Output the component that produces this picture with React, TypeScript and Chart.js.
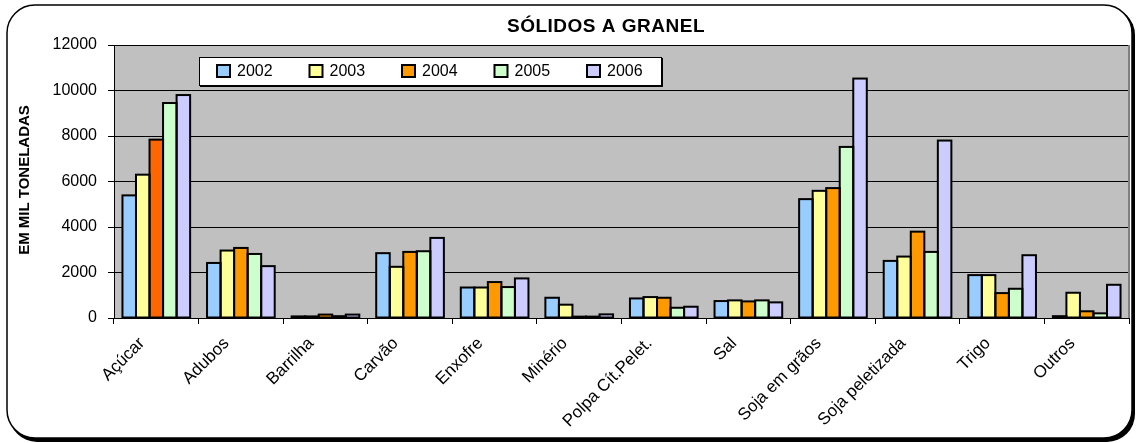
import React, { useEffect, useRef } from "react";
import { Chart, registerables } from "chart.js";

Chart.register(...registerables);

const categories = [
  "Açúcar",
  "Adubos",
  "Barrilha",
  "Carvão",
  "Enxofre",
  "Minério",
  "Polpa Cít.Pelet.",
  "Sal",
  "Soja em grãos",
  "Soja peletizada",
  "Trigo",
  "Outros",
];
const years = ["2002", "2003", "2004", "2005", "2006"];
const s2002 = [5390, 2420, 70, 2850, 1340, 890, 860, 745, 5225, 2510, 1885, 80];
const s2003 = [6300, 2965, 70, 2250, 1340, 585, 920, 775, 5590, 2700, 1885, 1110];
const s2004 = [7840, 3080, 150, 2905, 1580, 60, 890, 730, 5710, 3795, 1095, 295];
const s2005 = [9450, 2815, 80, 2935, 1360, 60, 450, 775, 7520, 2905, 1285, 205];
const s2006 = [9800, 2280, 150, 3520, 1740, 160, 495, 687, 10525, 7800, 2760, 1460];
const yTicks = [0, 2000, 4000, 6000, 8000, 10000, 12000];

const seriesValues = [s2002, s2003, s2004, s2005, s2006];
const seriesColors = ["#99CCFF", "#FFFF99", "#FF9900", "#CCFFCC", "#CCCCFF"];
const highlight2004 = "#FF6600";

const TITLE = "SÓLIDOS A GRANEL";
const Y_TITLE = "EM MIL TONELADAS";
const FONT = "'Liberation Sans', Arial, sans-serif";

function roundRect(ctx: CanvasRenderingContext2D, x: number, y: number, w: number, h: number, r: number) {
  ctx.beginPath();
  ctx.moveTo(x + r, y);
  ctx.lineTo(x + w - r, y);
  ctx.arcTo(x + w, y, x + w, y + r, r);
  ctx.lineTo(x + w, y + h - r);
  ctx.arcTo(x + w, y + h, x + w - r, y + h, r);
  ctx.lineTo(x + r, y + h);
  ctx.arcTo(x, y + h, x, y + h - r, r);
  ctx.lineTo(x, y + r);
  ctx.arcTo(x, y, x + r, y, r);
  ctx.closePath();
}

const decorPlugin = {
  id: "decor",
  beforeDraw(chart: any) {
    const ctx: CanvasRenderingContext2D = chart.ctx;
    const { left, right, top, bottom } = chart.chartArea;
    ctx.save();
    ctx.fillStyle = "#ffffff";
    ctx.fillRect(0, 0, chart.width, chart.height);
    // frame shadow
    ctx.fillStyle = "#000000";
    roundRect(ctx, 9, 7, 1126, 435, 28);
    ctx.fill();
    // frame
    ctx.fillStyle = "#ffffff";
    roundRect(ctx, 7, 5, 1125, 433, 28);
    ctx.fill();
    ctx.lineWidth = 1.5;
    ctx.strokeStyle = "#000000";
    ctx.stroke();
    // plot background
    ctx.fillStyle = "#C0C0C0";
    ctx.fillRect(left, top, right - left, bottom - top);
    ctx.restore();
  },
  afterDatasetsDraw(chart: any) {
    const ctx: CanvasRenderingContext2D = chart.ctx;
    const { right, top, bottom } = chart.chartArea;
    ctx.save();
    // bar outlines (centered on edges, Excel style)
    ctx.strokeStyle = "#000";
    ctx.lineWidth = 2;
    chart.data.datasets.forEach((_ds: any, i: number) => {
      const meta = chart.getDatasetMeta(i);
      meta.data.forEach((bar: any) => {
        const p = bar.getProps(["x", "y", "base", "width"], true);
        const y0 = Math.min(p.y, p.base);
        const h = Math.abs(p.base - p.y);
        ctx.strokeRect(p.x - p.width / 2, y0, p.width, h);
      });
    });

    // right plot border
    ctx.strokeStyle = "#808080";
    ctx.lineWidth = 2;
    ctx.beginPath();
    ctx.moveTo(right, top);
    ctx.lineTo(right, bottom);
    ctx.stroke();

    // x labels (rotated 45°)
    const xScale = chart.scales.x;
    ctx.fillStyle = "#000";
    ctx.font = `17px ${FONT}`;
    ctx.textAlign = "right";
    ctx.textBaseline = "alphabetic";
    categories.forEach((c, i) => {
      const tx = xScale.getPixelForValue(i);
      ctx.save();
      ctx.translate(tx - 11, bottom + 26);
      ctx.rotate(-Math.PI / 4);
      ctx.fillText(c, 0, 0);
      ctx.restore();
    });

    // title
    ctx.fillStyle = "#000";
    ctx.font = `bold 19px ${FONT}`;
    (ctx as any).letterSpacing = "0.5px";
    ctx.textAlign = "center";
    ctx.textBaseline = "alphabetic";
    ctx.fillText(TITLE, 606, 32);
    (ctx as any).letterSpacing = "0px";

    // y title
    ctx.save();
    ctx.translate(29, 180);
    ctx.rotate(-Math.PI / 2);
    ctx.font = `bold 15px ${FONT}`;
    ctx.textAlign = "center";
    ctx.textBaseline = "alphabetic";
    ctx.fillText(Y_TITLE, 0, 0);
    ctx.restore();

    // legend
    const lx = 199, ly = 57, lw = 463, lh = 29;
    ctx.fillStyle = "#000";
    ctx.fillRect(lx + 1, ly + 1, lw, lh);
    ctx.fillStyle = "#fff";
    ctx.fillRect(lx, ly, lw, lh);
    ctx.strokeStyle = "#000";
    ctx.lineWidth = 1;
    ctx.strokeRect(lx + 0.5, ly + 0.5, lw - 1, lh - 1);
    ctx.font = `16px ${FONT}`;
    ctx.textAlign = "left";
    ctx.textBaseline = "middle";
    chart.data.datasets.forEach((ds: any, i: number) => {
      const sx = 217 + i * 92.5;
      ctx.fillStyle = seriesColors[i];
      ctx.fillRect(sx, 65, 13, 12);
      ctx.strokeStyle = "#000";
      ctx.lineWidth = 2;
      ctx.strokeRect(sx, 65, 13, 12);
      ctx.fillStyle = "#000";
      ctx.fillText(ds.label, sx + 20, 72);
    });
    ctx.restore();
  },
};

export default function App() {
  const ref = useRef<HTMLCanvasElement | null>(null);
  useEffect(() => {
    document.body.style.margin = "0";
    const canvas = ref.current;
    if (!canvas) return;
    const datasets = years.map((y, i) => ({
      label: y,
      data: seriesValues[i],
      backgroundColor:
        i === 2
          ? seriesValues[i].map((_, k) => (k === 0 ? highlight2004 : seriesColors[i]))
          : seriesColors[i],
      borderWidth: 0,
      categoryPercentage: 0.8,
      barPercentage: 1.0,
    }));
    const chart = new Chart(canvas, {
      type: "bar",
      data: { labels: categories, datasets },
      plugins: [decorPlugin],
      options: {
        animation: false,
        responsive: false,
        maintainAspectRatio: false,
        devicePixelRatio: 1,
        layout: { padding: { left: 0, right: 7, top: 45, bottom: 0 } },
        plugins: {
          legend: { display: false },
          title: { display: false },
          tooltip: { enabled: false },
        },
        scales: {
          x: {
            grid: {
              offset: true,
              drawOnChartArea: false,
              drawTicks: true,
              tickLength: 6,
              color: "#000",
            },
            border: { display: true, color: "#000", width: 1 },
            ticks: { display: false },
            afterFit: (axis: any) => {
              axis.height = 125;
            },
          },
          y: {
            min: 0,
            max: 12000,
            afterBuildTicks: (axis: any) => {
              axis.ticks = yTicks.map((v) => ({ value: v }));
            },
            grid: { color: "#000", lineWidth: 1, tickLength: 6, drawTicks: true },
            border: { display: true, color: "#000", width: 1 },
            ticks: {
              color: "#000",
              font: { family: FONT, size: 16 },
              padding: 11,
              callback: (v: any) => String(v),
            },
            afterFit: (axis: any) => {
              axis.width = 114;
            },
          },
        },
      } as any,
    });
    return () => chart.destroy();
  }, []);
  return (
    <div style={{ position: "absolute", left: 0, top: 0, width: 1136, height: 443 }}>
      <canvas ref={ref} width={1136} height={443} style={{ width: 1136, height: 443 }} />
    </div>
  );
}
